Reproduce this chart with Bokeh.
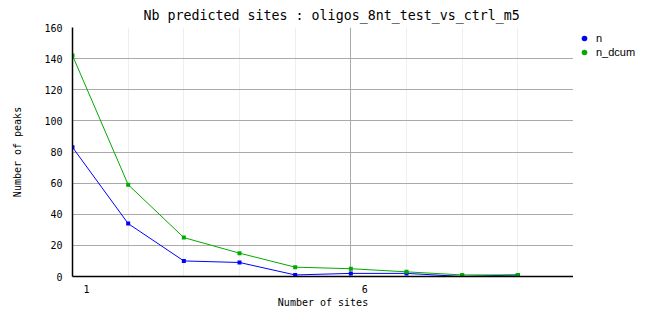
from bokeh.plotting import figure
from bokeh.layouts import row
from bokeh.models import FixedTicker, Legend, LegendItem, Range1d
from bokeh.embed import file_html
from bokeh.resources import INLINE

sites = [1, 2, 3, 4, 5, 6, 7, 8, 9]
n = [83, 34, 10, 9, 1, 2, 2, 0, 1]
n_dcum = [142, 59, 25, 15, 6, 5, 3, 1, 1]
series_labels = ["n", "n_dcum"]
x_tick_values = [1, 6]
x_tick_labels = ["1", "6"]
y_ticks = [0, 20, 40, 60, 80, 100, 120, 140, 160]

MONO = "DejaVu Sans Mono"
blue = "#0000ff"
green = "#00aa00"

p = figure(width=573, height=328, output_backend="svg", toolbar_location=None,
           x_range=Range1d(1, 10), y_range=Range1d(0, 160),
           min_border_left=72, min_border_right=0, min_border_top=27, min_border_bottom=52)
p.title.text = "Nb predicted sites : oligos_8nt_test_vs_ctrl_m5"
p.title.align = "left"
p.title.text_font = MONO
p.title.text_font_size = "13.3px"
p.title.text_font_style = "normal"
p.title.text_color = "black"
p.title.offset = 71
p.outline_line_color = None
p.background_fill_color = "white"
p.border_fill_color = "white"

# x axis: labels sit a quarter unit right of the grid line, no tick marks
off = 0.25
p.xaxis.ticker = FixedTicker(ticks=[v + off for v in x_tick_values])
p.xaxis.major_label_overrides = {v + off: t for v, t in zip(x_tick_values, x_tick_labels)}
p.xaxis.major_tick_line_color = None
p.xaxis.minor_tick_line_color = None
p.xaxis.axis_line_color = "black"
p.xaxis.axis_line_width = 1.5
p.xaxis.axis_label = "Number of sites"
p.xaxis.axis_label_text_font = MONO
p.xaxis.axis_label_text_font_size = "10px"
p.xaxis.axis_label_text_font_style = "normal"
p.xaxis.axis_label_text_color = "black"
p.xaxis.major_label_text_font = MONO
p.xaxis.major_label_text_font_size = "10px"
p.xaxis.major_label_text_color = "black"
p.xaxis.major_label_standoff = 2
p.xaxis.axis_label_standoff = 1

p.yaxis.ticker = FixedTicker(ticks=y_ticks)
p.yaxis.major_tick_line_color = None
p.yaxis.minor_tick_line_color = None
p.yaxis.axis_line_color = "black"
p.yaxis.axis_line_width = 1.5
p.yaxis.axis_label = "Number of peaks"
p.yaxis.axis_label_text_font = MONO
p.yaxis.axis_label_text_font_size = "10px"
p.yaxis.axis_label_text_font_style = "normal"
p.yaxis.axis_label_text_color = "black"
p.yaxis.major_label_text_font = MONO
p.yaxis.major_label_text_font_size = "10px"
p.yaxis.major_label_text_color = "black"
p.yaxis.major_label_standoff = 4
p.yaxis.axis_label_standoff = 18

p.xgrid.ticker = FixedTicker(ticks=[6], minor_ticks=[2, 3, 4, 5, 7, 8, 9, 10])
p.xgrid.grid_line_color = "#aaaaaa"
p.xgrid.minor_grid_line_color = "#eeeeee"
p.ygrid.ticker = FixedTicker(ticks=y_ticks)
p.ygrid.grid_line_color = "#aaaaaa"

p.line(sites, n, line_color=blue, line_width=1)
p.line(sites, n_dcum, line_color=green, line_width=1)
p.scatter(sites, n, marker="square", size=4, fill_color=blue, line_color=None)
p.scatter(sites, n_dcum, marker="square", size=4, fill_color=green, line_color=None)

# legend panel as a separate narrow figure
leg = figure(width=89, height=328, output_backend="svg", toolbar_location=None,
             x_range=Range1d(0, 1), y_range=Range1d(0, 1),
             min_border_left=0, min_border_right=0, min_border_top=17, min_border_bottom=0)
leg.axis.visible = False
leg.grid.visible = False
leg.outline_line_color = None
leg.background_fill_color = "white"
leg.border_fill_color = "white"
lr1 = leg.scatter([0.5], [0.5], marker="circle", size=0, fill_color=blue, line_color=None)
lr2 = leg.scatter([0.5], [0.5], marker="circle", size=0, fill_color=green, line_color=None)
legend = Legend(items=[LegendItem(label=series_labels[0], renderers=[lr1]),
                       LegendItem(label=series_labels[1], renderers=[lr2])],
                location="top_left", border_line_color=None, background_fill_alpha=0,
                label_text_font="Liberation Sans", label_text_font_size="11px",
                label_text_color="black",
                glyph_width=14, glyph_height=14, label_standoff=5, spacing=0,
                padding=0, margin=4, label_height=14)
leg.add_layout(legend, "center")

layout = row(p, leg, spacing=0)
open("out.html", "w").write(file_html(layout, INLINE))
